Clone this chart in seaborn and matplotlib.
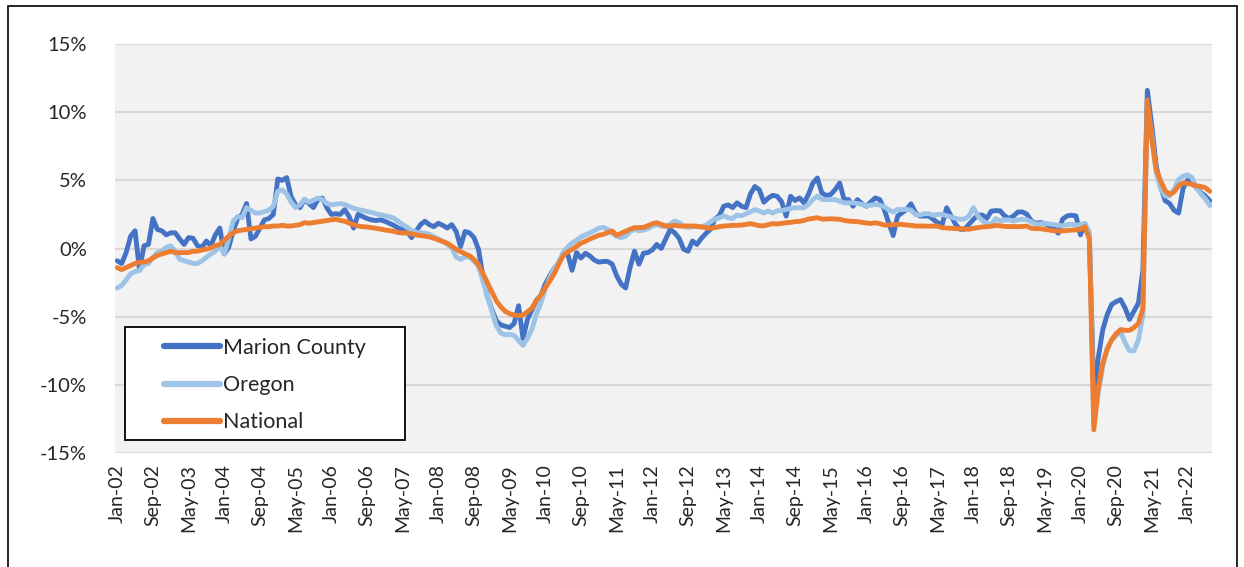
import numpy as np
import pandas as pd
import matplotlib
matplotlib.use("Agg")
import matplotlib.pyplot as plt
from matplotlib.patches import Rectangle
import seaborn as sns

# monthly year-over-year change (%), Jan-02 .. Jun-22
months = pd.date_range("2002-01-01", periods=246, freq="MS")

marion = [
    -0.9, -1.1, -0.3, 0.9, 1.3, -1.6, 0.2, 0.3, 2.2, 1.4,
    1.3, 1.0, 1.15, 1.15, 0.7, 0.3, 0.8, 0.75, 0.2, 0.1,
    0.55, 0.2, 1.0, 1.5, -0.4, 0.1, 1.3, 2.2, 2.5, 3.3,
    0.7, 0.9, 1.5, 2.1, 2.2, 2.5, 5.1, 5.0, 5.2, 3.8,
    3.2, 3.0, 3.6, 3.3, 3.0, 3.6, 3.7, 3.0, 2.5,
    2.55, 2.5, 2.85, 2.35, 1.5, 2.5, 2.35, 2.2, 2.1, 2.05,
    2.1, 2.0, 1.85, 1.7, 1.5, 1.4, 1.25, 0.8, 1.25, 1.75,
    2.0, 1.75, 1.6, 1.85, 1.7, 1.5, 1.75, 1.25, 0.15, 1.25,
    1.15, 0.8, -0.05, -2.0, -3.5, -4.45, -5.3, -5.6, -5.7, -5.8,
    -5.5, -4.2, -6.6, -5.2, -4.5, -3.8, -3.45, -2.6, -2.0, -1.45,
    -1.1, -0.35, -0.4, -1.6, -0.3, -0.7, -0.35, -0.55, -0.85, -1.0,
    -0.95, -0.95, -1.15, -2.0, -2.6, -2.9, -1.4, -0.2, -1.15, -0.35,
    -0.3, -0.1, 0.3, 0.0, 0.7, 1.4, 1.15, 0.75, -0.05, -0.2,
    0.55, 0.3, 0.75, 1.1, 1.4, 2.15, 2.4, 3.1, 3.2, 3.0,
    3.35, 3.1, 3.0, 4.0, 4.55, 4.3, 3.4, 3.7, 3.9,
    3.83, 3.42, 2.38, 3.83, 3.52, 3.71, 3.35, 3.96, 4.8, 5.17,
    4.08, 3.88, 3.96, 4.32, 4.8, 3.59, 3.59, 3.1, 3.59, 3.28,
    3.1, 3.42, 3.71, 3.59, 2.86, 1.89, 0.95, 2.38, 2.62, 2.86,
    3.28, 2.62, 2.38, 2.38, 2.38, 2.14, 1.89, 1.77, 2.99, 2.38,
    1.77, 1.41, 1.41, 1.77, 2.14, 2.45, 2.45, 2.21, 2.74,
    2.78, 2.76, 2.39, 2.2, 2.39, 2.68, 2.68, 2.51, 2.02, 1.85,
    1.9, 1.83, 1.66, 1.54, 1.12, 2.15, 2.39, 2.44, 2.39, 1.0,
    1.8, 0.8, -10.5, -8.0, -5.95, -4.85, -4.1, -3.9, -3.75, -4.36,
    -5.2, -4.6, -4.0, -1.6, 11.6, 9.0, 6.05, 4.5, 3.5, 3.3,
    2.8, 2.6, 4.4, 5.0, 4.85, 4.45, 4.1, 3.85, 3.5,
]

oregon = [
    -2.9, -2.7, -2.3, -1.85, -1.7, -1.6, -1.2, -1.1, -0.65, -0.3,
    -0.2, 0.1, 0.2, -0.2, -0.8, -0.9, -1.0, -1.1, -1.1, -0.9,
    -0.65, -0.4, -0.2, 0.2, -0.4, 0.7, 2.0, 2.35, 2.25, 3.0,
    2.8, 2.6, 2.6, 2.7, 2.8, 3.1, 4.2, 4.3, 4.0, 3.4,
    3.0, 3.2, 3.6, 3.4, 3.55, 3.7, 3.6, 3.3, 3.2,
    3.25, 3.3, 3.23, 3.08, 2.96, 2.86, 2.79, 2.72, 2.65, 2.55,
    2.48, 2.4, 2.33, 2.23, 1.99, 1.77, 1.55, 1.33, 1.21, 1.14,
    1.14, 1.04, 0.87, 0.7, 0.53, 0.32, 0.05, -0.63, -0.8, -0.63,
    -0.61, -0.92, -1.29, -2.38, -3.47, -4.56, -5.66, -6.19, -6.33, -6.29,
    -6.38, -6.75, -7.11, -6.58, -5.9, -4.81, -4.0, -2.94, -2.14, -1.46,
    -1.0, -0.3, 0.1, 0.4, 0.6, 0.85, 1.0, 1.15, 1.3, 1.5,
    1.55, 1.4, 1.1, 0.9, 0.8, 0.9, 1.25, 1.4, 1.3, 1.35,
    1.45, 1.65, 1.75, 1.65, 1.6, 1.8, 2.0, 1.9, 1.65, 1.55,
    1.6, 1.6, 1.6, 1.7, 1.95, 2.15, 2.25, 2.4, 2.25, 2.2,
    2.45, 2.4, 2.55, 2.7, 2.85, 2.75, 2.6, 2.75, 2.6,
    2.77, 2.79, 2.86, 2.94, 2.99, 2.99, 2.99, 3.23, 3.59, 3.83,
    3.59, 3.59, 3.59, 3.59, 3.47, 3.35, 3.35, 3.35, 3.3, 3.23,
    3.13, 3.18, 3.23, 3.18, 3.06, 2.84, 2.67, 2.86, 2.86, 2.86,
    2.82, 2.5, 2.45, 2.55, 2.55, 2.43, 2.5, 2.5, 2.4, 2.31,
    2.21, 2.14, 2.16, 2.38, 2.99, 2.38, 2.06, 1.82, 1.77,
    2.2, 2.02, 2.1, 2.1, 2.02, 2.1, 2.15, 2.1, 1.95, 1.78,
    1.8, 1.85, 1.8, 1.76, 1.71, 1.66, 1.75, 1.78, 1.71, 1.76,
    1.85, 1.2, -12.8, -10.6, -8.65, -7.3, -6.7, -6.4, -6.1, -6.9,
    -7.5, -7.5, -6.7, -4.9, 10.6, 8.26, 5.56, 4.39, 3.85, 3.85,
    4.34, 5.07, 5.3, 5.4, 5.2, 4.46, 4.0, 3.65, 3.15,
]

national = [
    -1.4, -1.55, -1.4, -1.25, -1.1, -1.0, -1.0, -0.9, -0.7, -0.5,
    -0.4, -0.3, -0.2, -0.3, -0.3, -0.3, -0.3, -0.2, -0.2, -0.1,
    -0.05, 0.05, 0.2, 0.3, 0.6, 0.9, 1.15, 1.3, 1.35, 1.4,
    1.45, 1.5, 1.55, 1.6, 1.6, 1.65, 1.65, 1.7, 1.65, 1.65,
    1.7, 1.75, 1.9, 1.85, 1.9, 1.95, 2.0, 2.05, 2.1,
    2.15, 2.06, 2.0, 1.87, 1.75, 1.65, 1.6, 1.58, 1.53, 1.48,
    1.43, 1.36, 1.31, 1.26, 1.17, 1.14, 1.14, 1.07, 1.0, 0.95,
    0.9, 0.85, 0.75, 0.63, 0.51, 0.39, 0.17, -0.05, -0.24, -0.39,
    -0.53, -0.8, -1.19, -1.82, -2.5, -3.16, -3.83, -4.27, -4.61, -4.78,
    -4.88, -4.93, -4.88, -4.64, -4.37, -3.83, -3.42, -2.89, -2.38, -1.85,
    -1.15, -0.53, -0.24, -0.07, 0.15, 0.39, 0.53, 0.7, 0.83, 0.97,
    1.04, 1.17, 1.29, 0.97, 1.12, 1.26, 1.41, 1.53, 1.53, 1.55,
    1.67, 1.82, 1.89, 1.77, 1.65, 1.65, 1.7, 1.65, 1.65, 1.65,
    1.65, 1.63, 1.58, 1.53, 1.48, 1.53, 1.6, 1.65, 1.67, 1.7,
    1.7, 1.72, 1.77, 1.82, 1.75, 1.67, 1.67, 1.75, 1.82,
    1.8, 1.84, 1.89, 1.92, 1.97, 1.99, 2.06, 2.16, 2.21, 2.26,
    2.16, 2.16, 2.18, 2.16, 2.14, 2.06, 2.01, 1.99, 1.97, 1.92,
    1.87, 1.84, 1.89, 1.82, 1.72, 1.72, 1.75, 1.77, 1.77, 1.72,
    1.7, 1.65, 1.65, 1.65, 1.63, 1.65, 1.63, 1.53, 1.5, 1.48,
    1.46, 1.46, 1.43, 1.41, 1.48, 1.53, 1.58, 1.6, 1.63,
    1.7, 1.66, 1.62, 1.61, 1.61, 1.6, 1.62, 1.64, 1.48, 1.46,
    1.45, 1.4, 1.35, 1.3, 1.29, 1.29, 1.32, 1.35, 1.37, 1.4,
    1.6, 0.7, -13.3, -10.2, -8.4, -7.4, -6.7, -6.25, -5.95, -6.0,
    -6.0, -5.8, -5.5, -4.4, 10.9, 8.0, 5.75, 4.95, 4.25, 3.97,
    4.15, 4.6, 4.8, 4.78, 4.7, 4.6, 4.55, 4.46, 4.2,
]

series_names = ["Marion County", "Oregon", "National"]
colors = ["#4472C4", "#9DC3E6", "#ED7D31"]

df = pd.DataFrame({"idx": np.arange(len(months)),
                   "Marion County": marion,
                   "Oregon": oregon,
                   "National": national})
long_df = df.melt(id_vars="idx", var_name="series", value_name="value")

sns.set_style("white")
plt.rcParams["font.family"] = ["Lato", "DejaVu Sans"]

fig = plt.figure(figsize=(12.44, 5.67), dpi=100)
ax = fig.add_axes([115 / 1244, 1 - 453 / 567, 1097 / 1244, 409 / 567])
ax.set_facecolor("#F2F2F2")

sns.lineplot(data=long_df, x="idx", y="value", hue="series",
             hue_order=series_names, palette=colors, linewidth=3.5,
             ax=ax, legend=False, solid_joinstyle="round",
             solid_capstyle="round")

ax.set_xlim(-0.5, len(months) - 0.5)
ax.set_ylim(-15, 15)
ax.set_yticks(np.arange(-15, 16, 5))
ax.set_yticklabels([f"{v}%" for v in range(-15, 16, 5)], fontsize=14.5)
tick_pos = np.arange(0, len(months), 8)
ax.set_xticks(tick_pos)
ax.set_xticklabels([months[i].strftime("%b-%y") for i in tick_pos],
                   rotation=90, fontsize=14)
ax.tick_params(axis="both", length=0)
ax.tick_params(axis="y", pad=20)
ax.tick_params(axis="x", pad=8)
ax.set_xlabel("")
ax.set_ylabel("")
ax.grid(axis="y", color="#D9D9D9", linewidth=1.5)
ax.grid(axis="x", visible=False)
ax.set_axisbelow(True)
for s in ax.spines.values():
    s.set_visible(False)

# legend box
box = Rectangle((10 / 1097, 13 / 409), 280 / 1097, 113 / 409,
                transform=ax.transAxes, facecolor="white",
                edgecolor="black", linewidth=1.3, zorder=5)
ax.add_patch(box)
handles = [plt.Line2D([], [], color=c, linewidth=4.5, solid_capstyle="round")
           for c in colors]
leg = ax.legend(handles, series_names, loc="center",
                bbox_to_anchor=(0.137, 0.166), frameon=False,
                fontsize=15.5, handlelength=2.6, handletextpad=0.15,
                labelspacing=0.8)
leg.set_zorder(6)

# outer chart frame
fig.patches.append(Rectangle((8 / 1244, -0.01), 1229 / 1244, 1.0,
                             transform=fig.transFigure, fill=False,
                             edgecolor="black", linewidth=1.2))

fig.savefig("out.png", dpi=100)
